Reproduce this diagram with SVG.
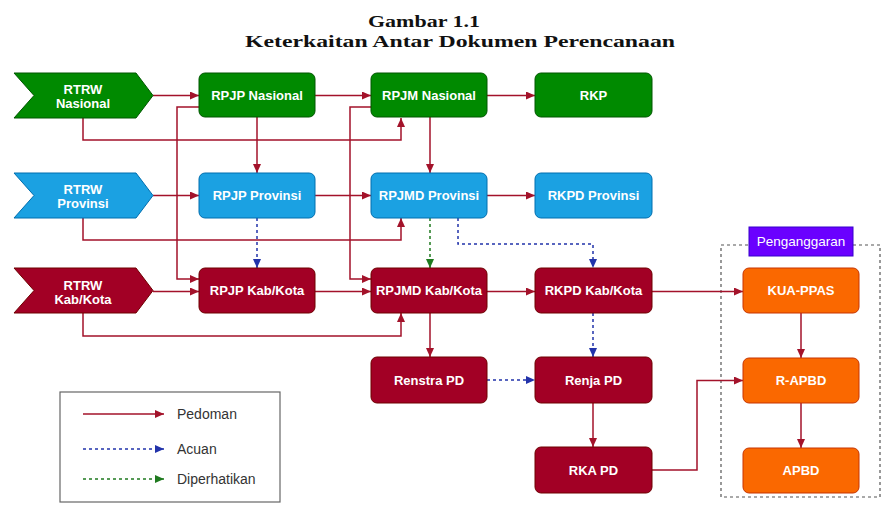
<svg xmlns="http://www.w3.org/2000/svg" width="882" height="506" viewBox="0 0 882 506">
<style>
.t{font-family:"Liberation Sans",Arial,sans-serif;font-size:13px;font-weight:bold;fill:#fff;text-anchor:middle}
.g{fill:#008a00;stroke:#005700;stroke-width:1}
.b{fill:#1ba1e2;stroke:#006eaf;stroke-width:1}
.r{fill:#a20025;stroke:#6f0000;stroke-width:1}
.o{fill:#fa6800;stroke:#c73500;stroke-width:1}
.ped{fill:none;stroke:#a3122a;stroke-width:1.5;marker-end:url(#mr)}
.acu{fill:none;stroke:#2233aa;stroke-width:1.5;stroke-dasharray:3 3;marker-end:url(#mb)}
.dip{fill:none;stroke:#1f7a1f;stroke-width:1.5;stroke-dasharray:3 3;marker-end:url(#mg)}
.lg{font-family:"Liberation Sans",Arial,sans-serif;font-size:14px;fill:#333}
.title{font-family:"Liberation Serif","Times New Roman",serif;font-size:17px;font-weight:bold;fill:#111}
</style>
<defs>
<marker id="mr" markerUnits="userSpaceOnUse" markerWidth="10" markerHeight="10" refX="9" refY="4" orient="auto"><path d="M0,0 L9,4 L0,8 Z" fill="#a3122a"/></marker>
<marker id="mb" markerUnits="userSpaceOnUse" markerWidth="10" markerHeight="10" refX="9" refY="4" orient="auto"><path d="M0,0 L9,4 L0,8 Z" fill="#2233aa"/></marker>
<marker id="mg" markerUnits="userSpaceOnUse" markerWidth="10" markerHeight="10" refX="9" refY="4" orient="auto"><path d="M0,0 L9,4 L0,8 Z" fill="#1f7a1f"/></marker>
</defs>
<rect width="882" height="506" fill="#fff"/>
<text class="title" x="424" y="27" text-anchor="middle" textLength="112" lengthAdjust="spacingAndGlyphs">Gambar 1.1</text>
<text class="title" x="460" y="46.5" text-anchor="middle" textLength="430" lengthAdjust="spacingAndGlyphs">Keterkaitan Antar Dokumen Perencanaan</text>

<g id="penganggaran-group">
<rect x="721" y="245" width="159" height="252" fill="none" stroke="#555" stroke-width="1.2" stroke-dasharray="3 3"/>
<rect x="749" y="227" width="104" height="29" fill="#6a00ff" stroke="#3700cc"/>
<text x="801" y="246" font-family="'Liberation Sans',Arial,sans-serif" font-size="13.5" fill="#fff" text-anchor="middle">Penganggaran</text>
</g>

<g id="connectors">
<path class="ped" d="M153,95.5 L199,95.5"/>
<path class="ped" d="M315,95.5 L371,95.5"/>
<path class="ped" d="M487,95.5 L535,95.5"/>
<path class="ped" d="M83,118 L83,140 L401,140 L401,118"/>
<path class="ped" d="M257,117 L257,173"/>
<path class="ped" d="M199,107 L177,107 L177,279 L199,279"/>
<path class="ped" d="M371,107 L350,107 L350,279 L371,279"/>
<path class="ped" d="M430,117 L430,173"/>

<path class="ped" d="M153,195.5 L199,195.5"/>
<path class="ped" d="M315,195.5 L371,195.5"/>
<path class="ped" d="M487,195.5 L535,195.5"/>
<path class="ped" d="M83,218 L83,240 L401,240 L401,218"/>
<path class="acu" d="M257,218 L257,268"/>
<path class="dip" d="M430,218 L430,268"/>
<path class="acu" d="M458,218 L458,244 L593,244 L593,268"/>

<path class="ped" d="M153,291.5 L199,291.5"/>
<path class="ped" d="M315,291.5 L371,291.5"/>
<path class="ped" d="M487,291.5 L535,291.5"/>
<path class="ped" d="M652,291.5 L743,291.5"/>
<path class="ped" d="M83,313 L83,336 L401,336 L401,313"/>
<path class="ped" d="M430,313 L430,357"/>
<path class="acu" d="M593,313 L593,357"/>

<path class="acu" d="M487,380 L535,380"/>
<path class="ped" d="M593,403 L593,447"/>
<path class="ped" d="M652,470 L697,470 L697,380.5 L743,380.5"/>
<path class="ped" d="M801,313 L801,358"/>
<path class="ped" d="M801,403 L801,448"/>
</g>

<g id="rtrw-nasional"><path class="g" d="M14,73 L136,73 L153,95.5 L136,118 L14,118 L34,95.5 Z"/><text class="t" x="83" y="94">RTRW</text><text class="t" x="83" y="108">Nasional</text></g>
<g id="rpjp-nasional"><rect class="g" x="199" y="73" width="116" height="44" rx="6"/><text class="t" x="257" y="99.5">RPJP Nasional</text></g>
<g id="rpjm-nasional"><rect class="g" x="371" y="73" width="116" height="44" rx="6"/><text class="t" x="429" y="99.5">RPJM Nasional</text></g>
<g id="rkp"><rect class="g" x="535" y="73" width="117" height="44" rx="6"/><text class="t" x="593.5" y="99.5">RKP</text></g>

<g id="rtrw-provinsi"><path class="b" d="M14,173 L136,173 L153,195.5 L136,218 L14,218 L34,195.5 Z"/><text class="t" x="83" y="194">RTRW</text><text class="t" x="83" y="208">Provinsi</text></g>
<g id="rpjp-provinsi"><rect class="b" x="199" y="173" width="116" height="45" rx="6"/><text class="t" x="257" y="200">RPJP Provinsi</text></g>
<g id="rpjmd-provinsi"><rect class="b" x="371" y="173" width="116" height="45" rx="6"/><text class="t" x="429" y="200">RPJMD Provinsi</text></g>
<g id="rkpd-provinsi"><rect class="b" x="535" y="173" width="117" height="45" rx="6"/><text class="t" x="593.5" y="200">RKPD Provinsi</text></g>

<g id="rtrw-kabkota"><path class="r" d="M14,268 L136,268 L153,290.5 L136,313 L14,313 L34,290.5 Z"/><text class="t" x="83" y="290">RTRW</text><text class="t" x="83" y="304">Kab/Kota</text></g>
<g id="rpjp-kabkota"><rect class="r" x="199" y="268" width="116" height="45" rx="6"/><text class="t" x="257" y="295">RPJP Kab/Kota</text></g>
<g id="rpjmd-kabkota"><rect class="r" x="371" y="268" width="116" height="45" rx="6"/><text class="t" x="429" y="295">RPJMD Kab/Kota</text></g>
<g id="rkpd-kabkota"><rect class="r" x="535" y="268" width="117" height="45" rx="6"/><text class="t" x="593.5" y="295">RKPD Kab/Kota</text></g>

<g id="renstra-pd"><rect class="r" x="371" y="357" width="116" height="46" rx="6"/><text class="t" x="429" y="384.5">Renstra PD</text></g>
<g id="renja-pd"><rect class="r" x="535" y="357" width="117" height="46" rx="6"/><text class="t" x="593.5" y="384.5">Renja PD</text></g>
<g id="rka-pd"><rect class="r" x="535" y="447" width="117" height="46" rx="6"/><text class="t" x="593.5" y="474.5">RKA PD</text></g>

<g id="kua-ppas"><rect class="o" x="743" y="268" width="116" height="45" rx="6"/><text class="t" x="801" y="295">KUA-PPAS</text></g>
<g id="r-apbd"><rect class="o" x="743" y="358" width="116" height="45" rx="6"/><text class="t" x="801" y="385">R-APBD</text></g>
<g id="apbd"><rect class="o" x="743" y="448" width="116" height="45" rx="6"/><text class="t" x="801" y="475">APBD</text></g>

<g id="legend">
<rect x="60" y="392" width="220" height="110" fill="#fff" stroke="#666" stroke-width="1.2"/>
<path class="ped" d="M83,414 L164,414"/>
<text class="lg" x="177" y="419">Pedoman</text>
<path class="acu" d="M83,449 L164,449"/>
<text class="lg" x="177" y="454">Acuan</text>
<path class="dip" d="M83,479 L164,479"/>
<text class="lg" x="177" y="484">Diperhatikan</text>
</g>
</svg>
